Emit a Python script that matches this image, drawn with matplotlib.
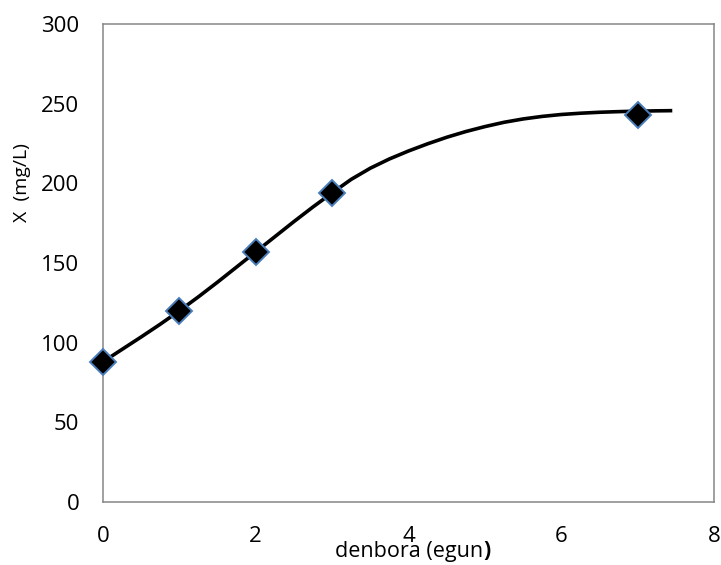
import matplotlib.pyplot as plt

plt.rcParams['font.family'] = ['Open Sans', 'DejaVu Sans']

# measured biomass
days = [0, 1, 2, 3, 7]
biomass = [88, 120, 157, 194, 243]

# fitted growth curve
fit_days = [0, 0.25, 0.5, 0.75, 1, 1.25, 1.5, 1.75, 2, 2.25, 2.5, 2.75, 3,
            3.25, 3.5, 3.75, 4, 4.25, 4.5, 4.75, 5, 5.25, 5.5, 5.75, 6,
            6.25, 6.5, 6.75, 7, 7.25, 7.43]
fit_biomass = [88, 95.8, 103.6, 111.6, 120, 128.8, 138, 147.5, 157, 166.5,
               176, 185.2, 194, 202.5, 209.5, 215.3, 220.3, 224.8, 228.9,
               232.5, 235.6, 238.3, 240.4, 242.0, 243.2, 244.0, 244.6,
               245.0, 245.3, 245.5, 245.6]

xticks = [0, 2, 4, 6, 8]
yticks = [0, 50, 100, 150, 200, 250, 300]

fig = plt.figure(figsize=(7.21, 5.65), dpi=100)
ax = fig.add_axes([103/721, 63/565, 611/721, 478/565])

ax.plot(fit_days, fit_biomass, color='black', lw=2.6, zorder=2)
ax.plot(days, biomass, ls='none', marker='D', ms=13, mfc='black',
        mec='#4a7ebb', mew=1.4, zorder=3, clip_on=False)

ax.set_xlim(0, 8)
ax.set_ylim(0, 300)
ax.set_xticks(xticks)
ax.set_yticks(yticks)
ax.tick_params(length=0, pad=17, labelsize=16)

for s in ax.spines.values():
    s.set_color('#868686')
    s.set_linewidth(1.1)

fig.text(22/721, 1 - 183/565, 'X  (mg/L)', rotation=90, ha='center',
         va='center', fontsize=14)
lbl = fig.text(409/721, 1 - 551/565, 'denbora (egun', ha='center',
               va='center', fontsize=15.5)
ax.annotate(')', xy=(1, 0), xycoords=lbl, va='bottom', ha='left',
            fontsize=15.5, fontweight='bold')

fig.savefig('out.png', dpi=100)
